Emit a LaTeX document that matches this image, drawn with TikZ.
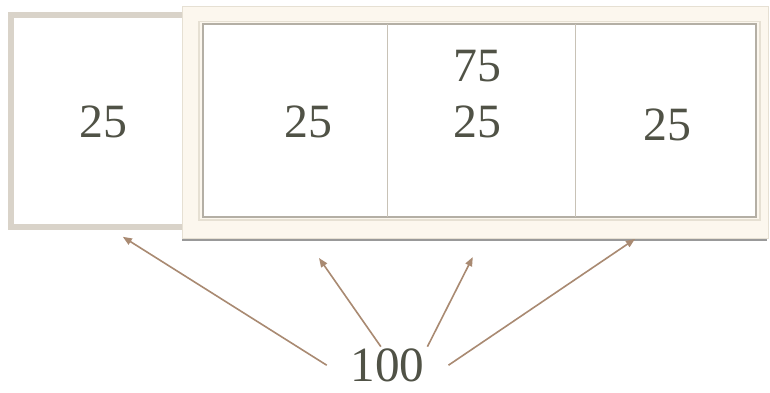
\documentclass[tikz,border=0pt]{standalone}
\usepackage{fontspec}
\setmainfont{Liberation Serif}
\usetikzlibrary{arrows.meta,shadows}
\definecolor{cText}{RGB}{80, 82, 70}
\definecolor{cArrow}{RGB}{169, 138, 114}
\definecolor{cLeftBox}{RGB}{217, 211, 201}
\definecolor{cFrame}{RGB}{252, 247, 238}
\definecolor{cFrameLine}{RGB}{230, 224, 211}
\definecolor{cInner}{RGB}{180, 175, 165}
\definecolor{cDiv}{RGB}{200, 194, 182}

\begin{document}
\begin{tikzpicture}[
    >={Stealth[length=6.5pt, width=5pt, inset=0pt]},
    num/.style={text=cText, inner sep=0pt, font=\fontsize{34}{40}\selectfont},
    pointer/.style={->, cArrow, line width=1.15pt}
]
    \useasboundingbox (0,0) rectangle (19.25,-9.8);

    % ================= left box (right edge sits under the frame) =================
    \draw[cLeftBox, line width=4.4pt]
        (4.75,-0.385) -- (0.275,-0.385) -- (0.275,-5.675) -- (4.75,-5.675);

    % ================= cream frame with three cells =================
    \filldraw[fill=cFrame, draw=cFrameLine, line width=0.6pt,
        drop shadow={shadow xshift=-0.8pt, shadow yshift=-1.8pt, fill=black, opacity=0.4}]
        (4.57,-0.15) rectangle (19.2,-5.95);
    \draw[cFrameLine, line width=0.8pt] (4.975,-0.5375) rectangle (19.0,-5.5);
    \filldraw[fill=white, draw=cInner, line width=1.1pt] (5.075,-0.6) rectangle (18.9,-5.425);
    \draw[cDiv, line width=0.6pt] (9.675,-0.6) -- (9.675,-5.425);
    \draw[cDiv, line width=0.6pt] (14.375,-0.6) -- (14.375,-5.425);

    % ================= numbers =================
    \node[num] (nLeft) at (2.575,-3.06) {25};
    \node[num] (nCellA) at (7.70,-3.06) {25};
    \node[num] (nCellBtop) at (11.94,-1.66) {75};
    \node[num] (nCellBbot) at (11.94,-3.04) {25};
    \node[num] (nCellC) at (16.69,-3.125) {25};
    \node[num, font=\fontsize{35}{41}\selectfont, inner ysep=1.2pt, minimum width=3.03cm]
        (nHundred) at (9.69,-9.13) {100};

    % ================= arrows from 100 =================
    \coordinate (tLeft) at (3.07,-5.92);
    \coordinate (tCellA) at (7.975,-6.45);
    \coordinate (tCellB) at (11.82,-6.425);
    \coordinate (tCellC) at (15.875,-5.975);
    \draw[pointer] (nHundred.west) -- (tLeft);
    \draw[pointer] (nHundred.110) -- (tCellA);
    \draw[pointer] (nHundred.25) -- (tCellB);
    \draw[pointer] (nHundred.east) -- (tCellC);

\end{tikzpicture}
\end{document}
